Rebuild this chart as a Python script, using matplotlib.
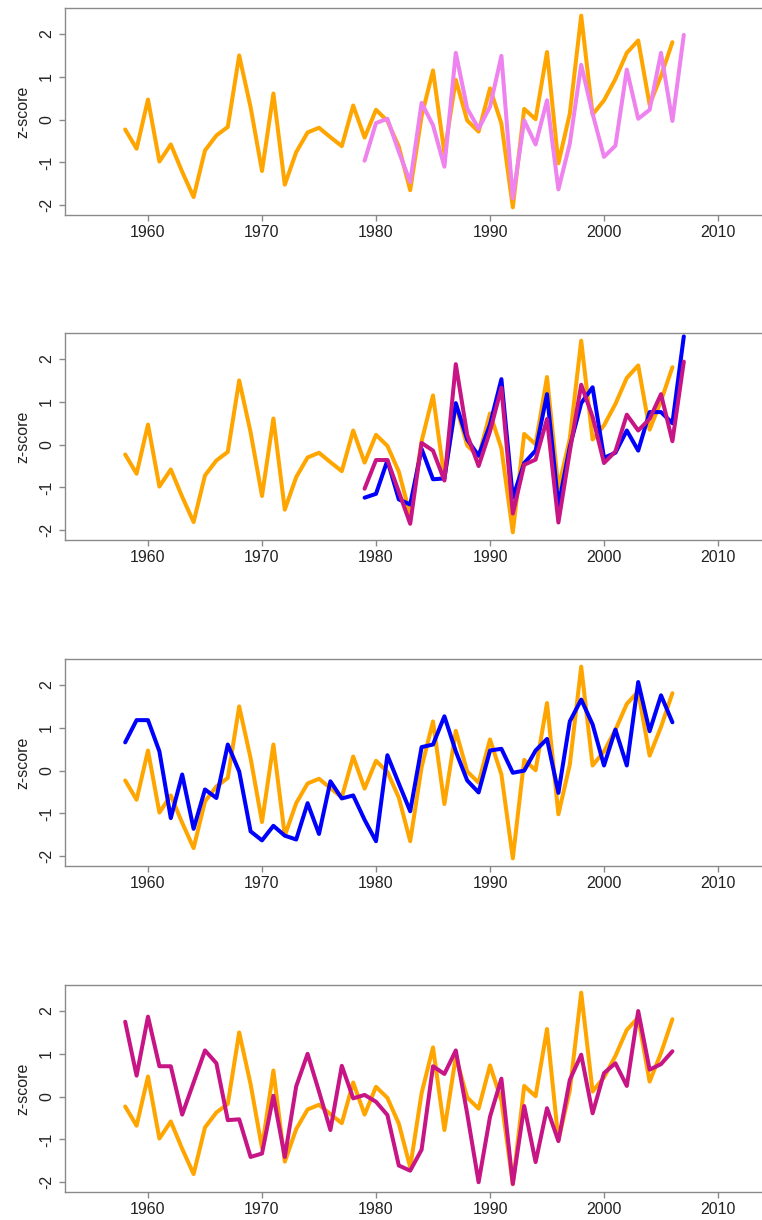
import matplotlib
matplotlib.use("Agg")
import matplotlib.pyplot as plt
import numpy as np

plt.rcParams['font.family'] = ['Liberation Sans', 'DejaVu Sans']
plt.rcParams['axes.unicode_minus'] = False

# reference series, 1958-2006
years_long = np.arange(1958, 2007)
orange_z = [-0.23, -0.68, 0.47, -0.98, -0.58, -1.22, -1.81, -0.72, -0.37, -0.17,
            1.50, 0.29, -1.20, 0.61, -1.52, -0.76, -0.30, -0.19, -0.41, -0.62,
            0.33, -0.42, 0.23, -0.03, -0.63, -1.65, 0.08, 1.15, -0.78, 0.93,
            -0.02, -0.28, 0.73, -0.09, -2.05, 0.25, 0.01, 1.58, -1.02, 0.14,
            2.43, 0.12, 0.45, 0.95, 1.56, 1.85, 0.35, 1.02, 1.81]

# short series, 1979-2007
years_short = np.arange(1979, 2008)
violet_z = [-0.96, -0.08, 0.02, -0.75, -1.46, 0.39, -0.13, -1.10, 1.56, 0.26,
            -0.21, 0.30, 1.49, -1.84, -0.02, -0.58, 0.45, -1.63, -0.56, 1.28,
            0.14, -0.87, -0.61, 1.17, 0.02, 0.23, 1.56, -0.03, 1.98]
blue_short_z = [-1.24, -1.15, -0.37, -1.28, -1.40, -0.10, -0.81, -0.79, 0.97, 0.12,
                -0.26, 0.47, 1.53, -1.24, -0.43, -0.14, 1.18, -1.43, -0.05, 0.97,
                1.34, -0.31, -0.19, 0.33, -0.14, 0.76, 0.76, 0.50, 2.53]
magenta_short_z = [-1.03, -0.36, -0.36, -1.10, -1.85, 0.04, -0.14, -0.84, 1.88, 0.23,
                   -0.50, 0.31, 1.33, -1.61, -0.47, -0.35, 0.60, -1.82, -0.16, 1.40,
                   0.65, -0.43, -0.16, 0.70, 0.33, 0.60, 1.18, 0.08, 1.94]

# long comparison series, 1958-2006
blue_long_z = [0.66, 1.18, 1.18, 0.45, -1.11, -0.09, -1.36, -0.44, -0.64, 0.61,
               -0.02, -1.42, -1.63, -1.29, -1.52, -1.61, -0.76, -1.48, -0.25, -0.65,
               -0.58, -1.15, -1.65, 0.36, -0.30, -0.95, 0.55, 0.61, 1.27, 0.45,
               -0.23, -0.51, 0.47, 0.51, -0.05, 0.00, 0.47, 0.74, -0.52, 1.15,
               1.66, 1.08, 0.12, 0.96, 0.12, 2.07, 0.92, 1.76, 1.13]
magenta_long_z = [1.75, 0.49, 1.87, 0.71, 0.71, -0.42, 0.33, 1.08, 0.78, -0.55,
                  -0.53, -1.41, -1.33, 0.02, -1.41, 0.24, 1.00, 0.12, -0.78, 0.72,
                  -0.04, 0.04, -0.12, -0.43, -1.61, -1.73, -1.24, 0.71, 0.53, 1.08,
                  -0.40, -2.00, -0.47, 0.42, -2.04, -0.22, -1.53, -0.27, -1.04, 0.39,
                  0.98, -0.39, 0.55, 0.78, 0.25, 2.00, 0.63, 0.76, 1.06]

ORANGE = '#FFA500'
VIOLET = '#EE82EE'
BLUE = '#0000FF'
MAGENTA = '#C71585'
GREY = '#8a8a8a'

panels = [
    [(years_long, orange_z, ORANGE), (years_short, violet_z, VIOLET)],
    [(years_long, orange_z, ORANGE), (years_short, blue_short_z, BLUE),
     (years_short, magenta_short_z, MAGENTA)],
    [(years_long, orange_z, ORANGE), (years_long, blue_long_z, BLUE)],
    [(years_long, orange_z, ORANGE), (years_long, magenta_long_z, MAGENTA)],
]

W, H = 762, 1220
fig = plt.figure(figsize=(W / 100, H / 100), dpi=100)

tops = [8, 333, 659, 985]
ax_h = 207
left_px, right_px = 65, 766.8

for top, series in zip(tops, panels):
    ax = fig.add_axes([left_px / W, 1 - (top + ax_h) / H,
                       (right_px - left_px) / W, ax_h / H])
    for x, y, c in series:
        ax.plot(x, y, color=c, lw=2.9, solid_joinstyle='round',
                solid_capstyle='round')
    ax.set_xlim(1952.72, 2014.28)
    ax.set_ylim(-2.229, 2.609)
    ax.set_xticks([1960, 1970, 1980, 1990, 2000, 2010])
    ax.set_yticks([-2, -1, 0, 1, 2])
    for s in ax.spines.values():
        s.set_color(GREY)
        s.set_linewidth(1.0)
    ax.tick_params(direction='out', length=4, width=1, color=GREY,
                   labelsize=11.5, labelcolor='#222222')
    ax.tick_params(axis='x', pad=3)
    ax.tick_params(axis='y', pad=4, labelrotation=90)
    for lab in ax.get_yticklabels():
        lab.set_va('center')
    ax.set_ylabel('z-score', fontsize=11.5, color='#222222', labelpad=6)

fig.savefig('out.png', dpi=100)
